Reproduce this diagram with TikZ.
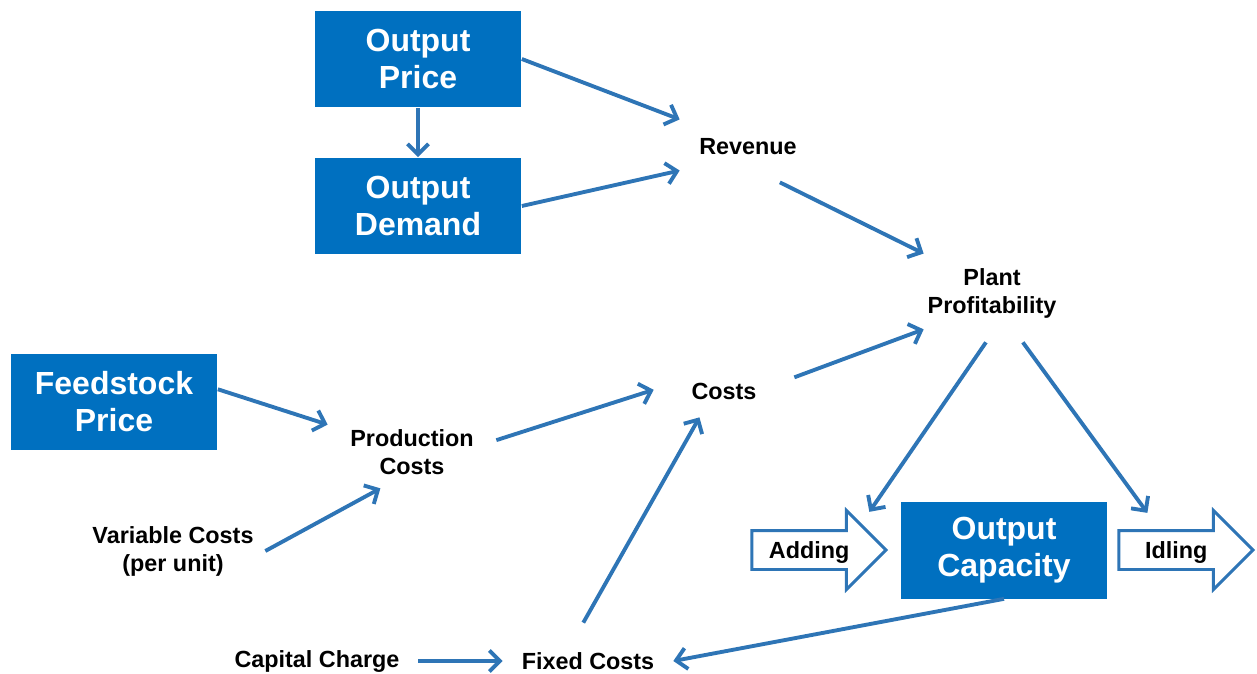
\documentclass[tikz,border=0pt]{standalone}
\usepackage{fontspec}
\setmainfont{Liberation Sans}
\usetikzlibrary{arrows.meta}
\usetikzlibrary{shapes.arrows}
\definecolor{boxblue}{HTML}{0070C0}
\definecolor{linkblue}{HTML}{2E75B6}
\tikzstyle{BoxNode}=[rectangle, fill=boxblue, text=white, inner sep=0pt, align=center, minimum width=4.14cm, minimum height=1.94cm, font=\bfseries\fontsize{18.2}{21}\selectfont]
\tikzstyle{LabelNode}=[rectangle, inner sep=0pt, align=center, font=\bfseries\fontsize{13.3}{15.9}\selectfont]
\tikzstyle{StepArrow}=[single arrow, draw=linkblue, line width=1.7pt, fill=white, inner xsep=0pt, inner ysep=0.193cm, text height=9.5pt, text depth=0pt, minimum height=2.68cm, single arrow head extend=0.4cm, font=\bfseries\fontsize{13.3}{15.9}\selectfont]
\tikzstyle{Link}=[->, line width=2.2pt, draw=linkblue]
\tikzset{>={Straight Barb[length=6pt,width=12pt]}}

\begin{document}
\begin{tikzpicture}[x=0.02cm, y=-0.02cm]
\useasboundingbox (0,0) rectangle (1257,673);

\node[BoxNode](Price) at (418,59) {Output\\Price};
\node[BoxNode](Demand) at (418,206) {Output\\Demand};
\node[BoxNode](Feed) at (114,402) {Feedstock\\Price};
\node[BoxNode](Capacity) at (1004,550) {Output\\Capacity};

\node[LabelNode, minimum width=2.72cm, minimum height=1.4cm](Revenue) at (748,147) {Revenue};
\node[LabelNode, minimum width=2.72cm, minimum height=1.96cm](Plant) at (992,293) {Plant\\Profitability};
\node[LabelNode, minimum width=2.8cm, minimum height=1.04cm](Costs) at (724,391) {Costs};
\node[LabelNode, minimum width=3.36cm, minimum height=1.44cm](Prod) at (412,452) {Production\\Costs};
\node[LabelNode, minimum width=3.68cm](Var) at (173,551) {Variable Costs\\(per unit)};
\node[LabelNode, minimum width=3.4cm, minimum height=1.52cm](Fixed) at (588,661) {Fixed Costs};
\node[LabelNode, minimum width=4.04cm](Capital) at (317,661) {Capital Charge};

\node[StepArrow, anchor=tip](Adding) at (888,550) {Adding};
\node[StepArrow, anchor=tip](Idling) at (1255,550) {Idling};

\draw[Link](Price) -- (Demand);
\draw[Link](Price.east) -- (Revenue.158);
\draw[Link](Demand.east) -- (Revenue.-161);
\draw[Link](Revenue.-48) -- (Plant.150);
\draw[Link](Costs.11) -- (Plant.-152);
\draw[Link](Feed.7) -- (Prod.162);
\draw[Link](Var.east) -- (Prod.-131);
\draw[Link](Prod.8) -- (Costs.179);
\draw[Link](Fixed.97) -- (Costs.-133);
\draw[Link](Capital.east) -- (Fixed.west);
\draw[Link](Capacity.south) -- (Fixed.east);
\draw[Link, shorten >=0.28cm](Plant.-97) -- (Adding.27);
\draw[Link, shorten >=0.4cm](Plant.-58) -- (Idling.129);
\end{tikzpicture}
\end{document}
